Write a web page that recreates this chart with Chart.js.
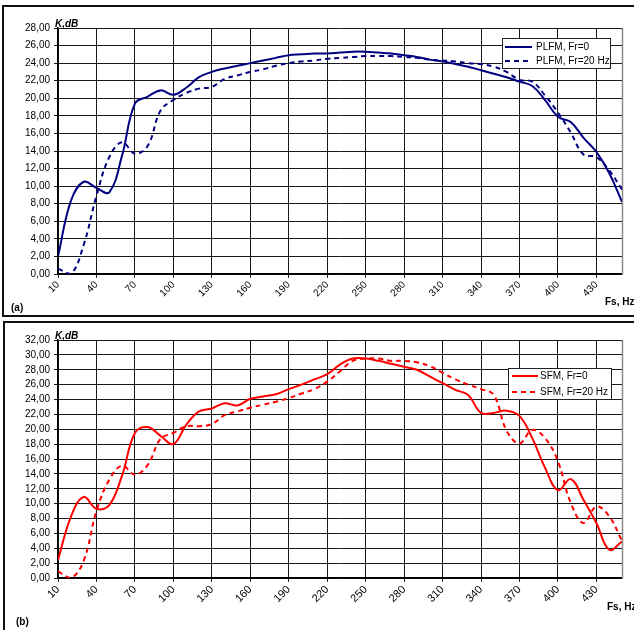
<!DOCTYPE html>
<html>
<head>
<meta charset="utf-8">
<script src="https://cdn.jsdelivr.net/npm/chart.js@4.4.0/dist/chart.umd.min.js"></script>
<style>
body { margin: 0; background: #fff; width: 634px; height: 630px; overflow: hidden; position: relative; }
.box { position: absolute; border: 2px solid #111; }
#boxA { left: 2px; top: 5px; width: 700px; height: 308px; }
#boxB { left: 3px; top: 321px; width: 700px; height: 400px; }
canvas { position: absolute; left: 0; }
#chartA { top: 0; }
#chartB { top: 318px; }
</style>
</head>
<body>
<div class="box" id="boxA"></div>
<div class="box" id="boxB"></div>
<canvas id="chartA" width="634" height="318"></canvas>
<canvas id="chartB" width="634" height="312"></canvas>
<script>
// frequencies, Hz
var freqs = [10, 20, 30, 40, 50, 60, 70, 80, 90, 100, 110, 120, 130, 140, 150, 160, 170, 180, 190, 200,
	210, 220, 230, 240, 250, 260, 270, 280, 290, 300, 310, 320, 330, 340, 350, 360, 370, 380, 390, 400,
	410, 420, 430, 440, 450];
var xTickValues = [10, 40, 70, 100, 130, 160, 190, 220, 250, 280, 310, 340, 370, 400, 430];

// (a) PLFM, K in dB
var plfmFr0 = [2.0, 8.3, 10.5, 9.8, 9.3, 13.5, 19.4, 20.2, 20.9, 20.4, 21.2, 22.4, 23.0, 23.4, 23.7, 24.0, 24.3, 24.6, 24.9, 25.0,
	25.1, 25.1, 25.2, 25.3, 25.3, 25.2, 25.1, 24.9, 24.7, 24.4, 24.2, 23.9, 23.6, 23.2, 22.8, 22.4, 21.9, 21.4, 19.8, 17.9,
	17.3, 15.5, 13.9, 11.5, 8.2];
var plfmFr20 = [0.6, 0.0, 3.3, 8.9, 13.3, 15.0, 13.7, 14.6, 18.6, 19.8, 20.6, 21.1, 21.3, 22.2, 22.6, 23.0, 23.3, 23.7, 24.0, 24.2,
	24.3, 24.5, 24.6, 24.7, 24.8, 24.8, 24.8, 24.7, 24.6, 24.4, 24.3, 24.2, 24.0, 23.9, 23.6, 23.0, 22.1, 21.9, 20.3, 18.4,
	16.1, 13.6, 13.3, 11.8, 9.6];

// (b) SFM, K in dB
var sfmFr0 = [2.4, 8.2, 10.9, 9.3, 9.8, 13.8, 19.5, 20.3, 19.1, 18.0, 20.6, 22.4, 22.8, 23.5, 23.2, 24.1, 24.4, 24.7, 25.4, 26.0,
	26.7, 27.4, 28.7, 29.5, 29.5, 29.2, 28.8, 28.4, 28.0, 27.1, 26.2, 25.3, 24.6, 22.2, 22.2, 22.5, 21.8, 18.8, 14.8, 11.8,
	13.3, 10.5, 7.4, 3.8, 4.9];
var sfmFr20 = [0.9, 0.0, 2.3, 9.0, 13.2, 15.1, 13.9, 15.2, 18.7, 19.5, 20.4, 20.4, 20.7, 21.9, 22.4, 22.9, 23.3, 23.7, 24.2, 24.8,
	25.4, 26.4, 27.8, 29.2, 29.5, 29.5, 29.2, 29.2, 29.0, 28.5, 27.6, 26.7, 26.0, 25.4, 24.6, 19.8, 18.1, 19.9, 18.8, 15.7,
	10.1, 7.4, 9.6, 8.3, 5.0];

Chart.defaults.font.family = '"Liberation Sans", Arial, sans-serif';
Chart.defaults.color = '#000';

function pairs(ys) {
	return freqs.map(function (f, i) { return { x: f, y: ys[i] }; });
}

// right edge of the plot, legend box, axis captions
var decorPlugin = {
	id: 'decor',
	beforeDatasetsDraw: function (chart) {
		var ctx = chart.ctx, a = chart.chartArea;
		ctx.save();
		ctx.strokeStyle = '#8a8a8a';
		ctx.lineWidth = 1.5;
		ctx.beginPath();
		ctx.moveTo(a.right + 0.5, a.top);
		ctx.lineTo(a.right + 0.5, a.bottom);
		ctx.stroke();
		ctx.restore();
	},
	afterDraw: function (chart, args, opts) {
		var ctx = chart.ctx, a = chart.chartArea;
		ctx.save();
		// captions
		ctx.fillStyle = '#000';
		ctx.textAlign = 'left';
		ctx.textBaseline = 'alphabetic';
		ctx.font = 'italic bold 10px "Liberation Sans", Arial, sans-serif';
		ctx.fillText('K,dB', a.left - 3, a.top - 1);
		ctx.font = 'bold 10px "Liberation Sans", Arial, sans-serif';
		ctx.fillText('Fs, Hz', opts.fsX, opts.fsY);
		ctx.fillText(opts.tag, opts.tagX, opts.tagY);
		// legend
		var L = opts.legend;
		ctx.fillStyle = '#fff';
		ctx.fillRect(L.x, L.y, L.w, L.h);
		ctx.strokeStyle = '#222';
		ctx.lineWidth = 1;
		ctx.strokeRect(L.x + 0.5, L.y + 0.5, L.w, L.h);
		ctx.font = '10px "Liberation Sans", Arial, sans-serif';
		ctx.textBaseline = 'middle';
		chart.data.datasets.forEach(function (ds, i) {
			var yy = L.y + L.rows[i];
			ctx.strokeStyle = ds.borderColor;
			ctx.lineWidth = 2;
			ctx.setLineDash(ds.borderDash || []);
			ctx.beginPath();
			ctx.moveTo(L.x + L.line0, yy);
			ctx.lineTo(L.x + L.line1, yy);
			ctx.stroke();
			ctx.setLineDash([]);
			ctx.fillStyle = '#000';
			ctx.fillText(ds.label, L.x + L.text, yy);
		});
		ctx.restore();
	}
};

function make_chart(canvas_id, color, names, series, yMax, xFont, xHeight, padTop, decor) {
	var datasets = [{
		label: names[0],
		data: pairs(series[0]),
		borderColor: color,
		borderWidth: 2,
		pointRadius: 0,
		tension: 0.4
	}, {
		label: names[1],
		data: pairs(series[1]),
		borderColor: color,
		borderWidth: 2,
		borderDash: [5, 4],
		pointRadius: 0,
		tension: 0.4
	}];
	return new Chart(document.getElementById(canvas_id), {
		type: 'line',
		data: { datasets: datasets },
		plugins: [decorPlugin],
		options: {
			responsive: false,
			animation: false,
			layout: { padding: { top: padTop, right: 12, left: 0, bottom: 0 } },
			plugins: { legend: { display: false }, tooltip: { enabled: false }, decor: decor },
			scales: {
				x: {
					type: 'linear',
					min: 10,
					max: 450,
					afterBuildTicks: function (scale) {
						scale.ticks = xTickValues.map(function (v) { return { value: v }; });
					},
					afterFit: function (scale) { scale.height = xHeight; },
					ticks: {
						autoSkip: false,
						minRotation: 45,
						maxRotation: 45,
						padding: 1,
						font: { size: xFont },
						callback: function (v) { return String(v); }
					},
					grid: { color: '#1a1a1a', tickLength: 4 },
					border: { color: '#000', width: 1.5 }
				},
				y: {
					min: 0,
					max: yMax,
					afterFit: function (scale) { scale.width = 58; },
					ticks: {
						stepSize: 2,
						autoSkip: false,
						padding: 4,
						font: { size: 10 },
						callback: function (v) { return v.toFixed(2).replace('.', ','); }
					},
					grid: { color: '#1a1a1a', tickLength: 4 },
					border: { color: '#000', width: 1.5 }
				}
			}
		}
	});
}

make_chart('chartA', '#000080', ['PLFM, Fr=0', 'PLFM, Fr=20 Hz'], [plfmFr0, plfmFr20], 28, 10, 44, 28, {
	fsX: 605, fsY: 305, tag: '(a)', tagX: 11, tagY: 311,
	legend: { x: 502, y: 38, w: 108, h: 30, rows: [9, 23], line0: 3, line1: 30, text: 34 }
});
make_chart('chartB', '#ff0000', ['SFM, Fr=0', 'SFM, Fr=20 Hz'], [sfmFr0, sfmFr20], 32, 11, 52, 22, {
	fsX: 607, fsY: 292, tag: '(b)', tagX: 16, tagY: 307,
	legend: { x: 508, y: 50, w: 103, h: 31, rows: [8, 24], line0: 4, line1: 30, text: 32 }
});
</script>
</body>
</html>
